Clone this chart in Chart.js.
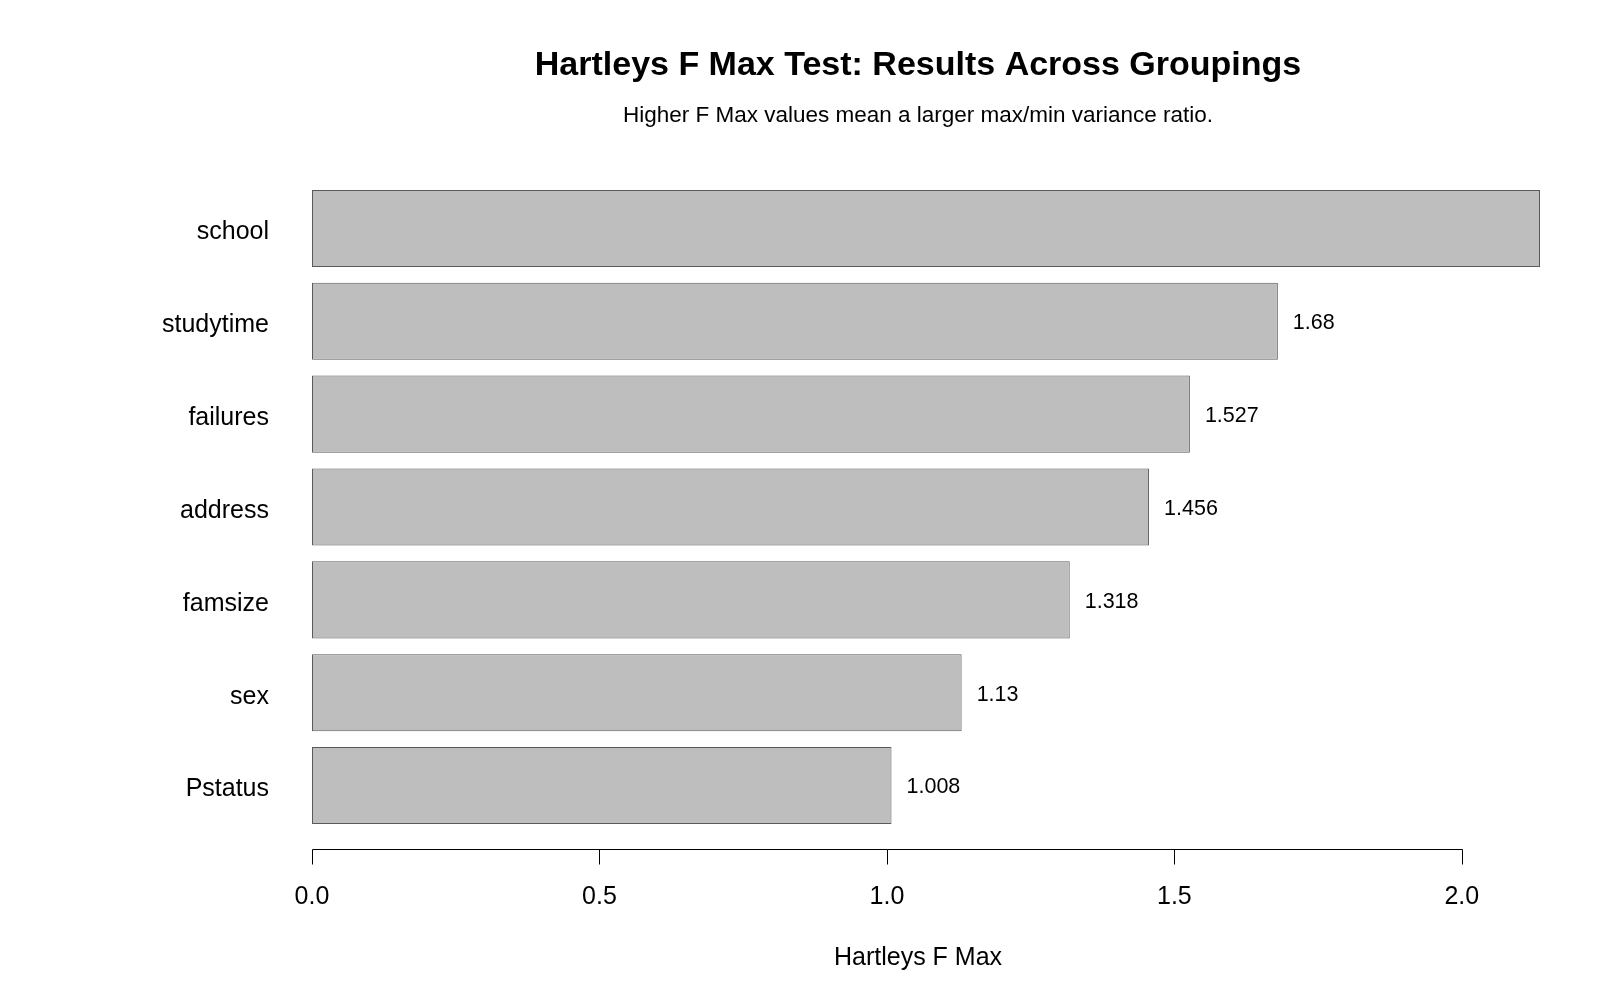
<!DOCTYPE html>
<html>
<head>
<meta charset="utf-8">
<script src="https://cdn.jsdelivr.net/npm/chart.js@4.4.1/dist/chart.umd.min.js"></script>
<style>
  body { margin: 0; background: #fff; }
  #wrap { width: 1600px; height: 1000px; position: relative; }
</style>
</head>
<body>
<div id="wrap"><canvas id="fmaxChart"></canvas></div>
<script>
// groupings, top to bottom
const groupings = ['school', 'studytime', 'failures', 'address', 'famsize', 'sex', 'Pstatus'];
// school runs off the right edge of the plot, its label is cut off
const fMax = [2.136, 1.68, 1.527, 1.456, 1.318, 1.13, 1.008];
const xTicks = [0, 0.5, 1.0, 1.5, 2.0];

const FONT = '"Liberation Sans", Arial, sans-serif';

const extras = {
  id: 'extras',
  afterDatasetsDraw(chart) {
    const { ctx, chartArea, scales: { x } } = chart;
    ctx.save();

    // value labels right of each bar (clipped like R does outside the plot region)
    ctx.fillStyle = '#000';
    ctx.font = '21.5px ' + FONT;
    ctx.textAlign = 'left';
    ctx.textBaseline = 'middle';
    chart.getDatasetMeta(0).data.forEach((bar, i) => {
      const tx = bar.x + 15;
      if (tx > chartArea.right) return;
      ctx.fillText(String(fMax[i]), tx, bar.y + 2);
    });

    // R style axis: line only from first to last tick
    const axisY = Math.round(chartArea.bottom + 17) + 0.5;
    ctx.strokeStyle = '#000';
    ctx.lineWidth = 1;
    ctx.beginPath();
    ctx.moveTo(Math.round(x.getPixelForValue(xTicks[0])) + 0.5, axisY);
    ctx.lineTo(Math.round(x.getPixelForValue(xTicks[xTicks.length - 1])) + 0.5, axisY);
    xTicks.forEach(v => {
      const px = Math.round(x.getPixelForValue(v)) + 0.5;
      ctx.moveTo(px, axisY);
      ctx.lineTo(px, axisY + 15);
    });
    ctx.stroke();

    // titles
    ctx.textAlign = 'center';
    ctx.font = 'bold 34px ' + FONT;
    ctx.fillText('Hartleys F Max Test: Results Across Groupings', 918, 66);
    ctx.font = '22.5px ' + FONT;
    ctx.fillText('Higher F Max values mean a larger max/min variance ratio.', 918, 116);
    ctx.font = '25px ' + FONT;
    ctx.fillText('Hartleys F Max', 918, 958);
    ctx.restore();
  }
};

const ctx = document.getElementById('fmaxChart').getContext('2d');
const fmaxChart = new Chart(ctx, {
  type: 'bar',
  data: {
    labels: groupings,
    datasets: [{
      label: 'Hartleys F Max',
      data: fMax,
      backgroundColor: '#BEBEBE',
      borderColor: '#5a5a5a',
      borderWidth: 1,
      borderSkipped: false,
      categoryPercentage: 1.0,
      barPercentage: 0.83
    }]
  },
  options: {
    indexAxis: 'y',
    responsive: true,
    maintainAspectRatio: false,
    animation: false,
    layout: { padding: { top: 182, right: 60, bottom: 0, left: 0 } },
    plugins: {
      legend: { display: false },
      tooltip: { enabled: false }
    },
    scales: {
      x: {
        type: 'linear',
        min: 0,
        max: 2.136,
        afterBuildTicks: scale => { scale.ticks = xTicks.map(v => ({ value: v })); },
        afterFit: scale => { scale.height = 168; },
        grid: { display: false, drawTicks: false },
        border: { display: false },
        ticks: {
          padding: 50,
          color: '#000',
          font: { family: FONT, size: 25 },
          callback: v => Number(v).toFixed(1)
        }
      },
      y: {
        afterFit: scale => { scale.width = 312; },
        grid: { display: false, drawTicks: false },
        border: { display: false },
        ticks: {
          padding: 43,
          labelOffset: 4,
          color: '#000',
          font: { family: FONT, size: 25 }
        }
      }
    }
  },
  plugins: [extras]
});
</script>
</body>
</html>
